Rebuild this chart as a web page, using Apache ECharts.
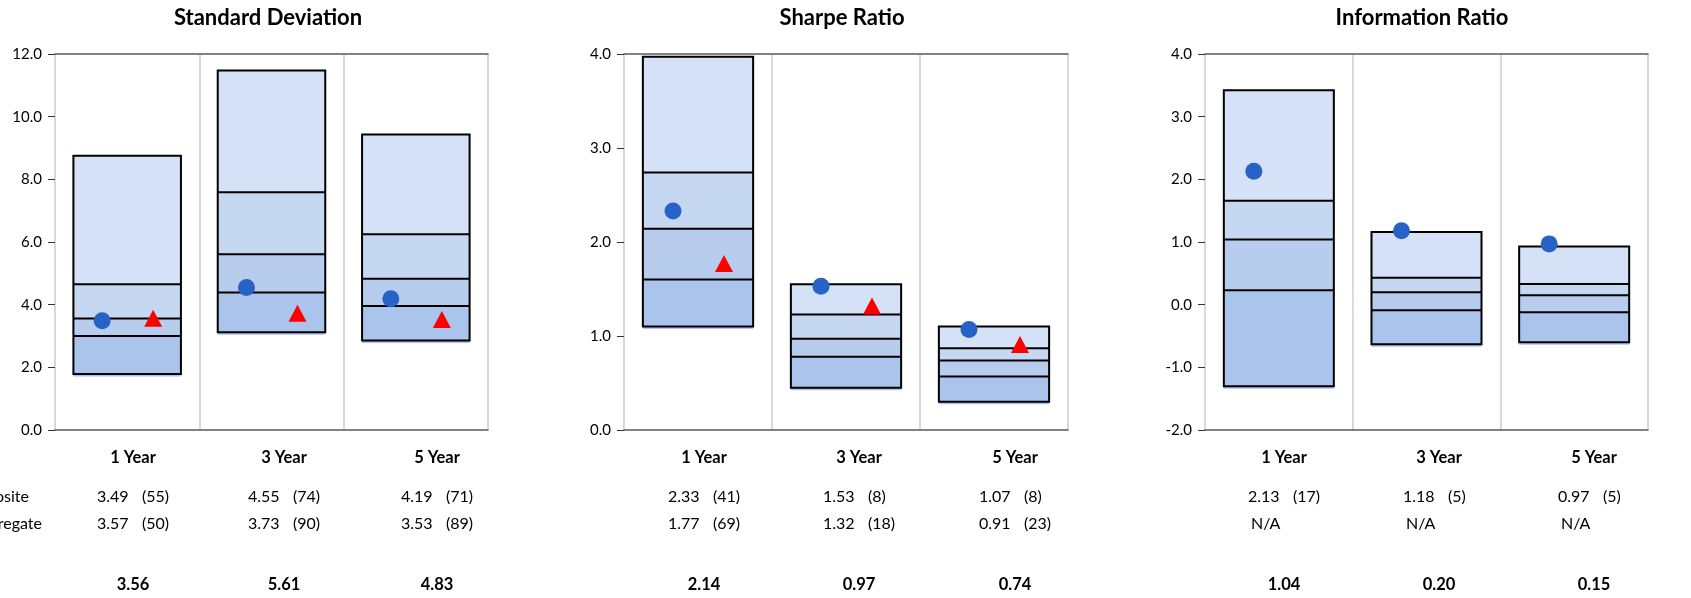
<!DOCTYPE html>
<html>
<head>
<meta charset="utf-8">
<script src="https://cdn.jsdelivr.net/npm/echarts@6.0.0/dist/echarts.min.js"></script>
<style>
	html, body { margin: 0; padding: 0; background: #fff; }
	#main { width: 1691px; height: 598px; }
</style>
</head>
<body>
<div id="main"></div>
<script>
const categories = ['1 Year', '3 Year', '5 Year'];

// Standard Deviation: percentile boxes (5th / 25th / median / 75th / 95th)
const sdP5 = [1.79, 3.12, 2.86];
const sdP25 = [3.0, 4.39, 3.96];
const sdMedian = [3.56, 5.61, 4.83];
const sdP75 = [4.65, 7.59, 6.25];
const sdP95 = [8.75, 11.47, 9.43];
const sdComposite = [3.49, 4.55, 4.19];
const sdCompositeRank = [55, 74, 71];
const sdAggregate = [3.57, 3.73, 3.53];
const sdAggregateRank = [50, 90, 89];

// Sharpe Ratio
const srP5 = [1.1, 0.45, 0.3];
const srP25 = [1.6, 0.78, 0.57];
const srMedian = [2.14, 0.97, 0.74];
const srP75 = [2.74, 1.23, 0.87];
const srP95 = [3.97, 1.55, 1.1];
const srComposite = [2.33, 1.53, 1.07];
const srCompositeRank = [41, 8, 8];
const srAggregate = [1.77, 1.32, 0.91];
const srAggregateRank = [69, 18, 23];

// Information Ratio (no aggregate figures)
const irP5 = [-1.3, -0.63, -0.6];
const irP25 = [0.23, -0.09, -0.12];
const irMedian = [1.04, 0.2, 0.15];
const irP75 = [1.66, 0.43, 0.33];
const irP95 = [3.42, 1.16, 0.93];
const irComposite = [2.13, 1.18, 0.97];
const irCompositeRank = [17, 5, 5];
const irAggregate = [null, null, null];
const irAggregateRank = [null, null, null];

const panels = [
	{
		title: 'Standard Deviation', titleX: 268,
		p5: sdP5, p25: sdP25, median: sdMedian, p75: sdP75, p95: sdP95,
		composite: sdComposite, compositeRank: sdCompositeRank,
		aggregate: sdAggregate, aggregateRank: sdAggregateRank,
		min: 0, max: 12, interval: 2,
		left: 55, width: 433, cols: [133, 284, 437]
	},
	{
		title: 'Sharpe Ratio', titleX: 842,
		p5: srP5, p25: srP25, median: srMedian, p75: srP75, p95: srP95,
		composite: srComposite, compositeRank: srCompositeRank,
		aggregate: srAggregate, aggregateRank: srAggregateRank,
		min: 0, max: 4, interval: 1,
		left: 624, width: 444, cols: [704, 859, 1015]
	},
	{
		title: 'Information Ratio', titleX: 1422,
		p5: irP5, p25: irP25, median: irMedian, p75: irP75, p95: irP95,
		composite: irComposite, compositeRank: irCompositeRank,
		aggregate: irAggregate, aggregateRank: irAggregateRank,
		min: -2, max: 4, interval: 1,
		left: 1205, width: 443, cols: [1284, 1439, 1594]
	}
];

const FONT = 'Lato, "Open Sans", sans-serif';
const boxShades = ['#aac4eb', '#b8cdee', '#c6d8f1', '#d5e1f6']; // bottom to top

function renderBox(params, api) {
	const i = api.value(0);
	const ys = [1, 2, 3, 4, 5].map(k => api.coord([i, api.value(k)])[1]);
	const cx = api.coord([i, api.value(1)])[0];
	const w = api.size([1, 0])[0] * 0.745;
	const x0 = cx - w / 2;
	const children = [];
	for (let k = 0; k < 4; k++) {
		children.push({
			type: 'rect',
			shape: { x: x0, y: ys[k + 1], width: w, height: ys[k] - ys[k + 1] },
			style: { fill: boxShades[k] }
		});
	}
	// faint blue edge under the box
	children.push({
		type: 'rect',
		shape: { x: x0, y: ys[0], width: w, height: 2.5 },
		style: { fill: '#a9c4ea' }
	});
	for (let k = 1; k < 4; k++) {
		children.push({
			type: 'line',
			shape: { x1: x0, y1: ys[k], x2: x0 + w, y2: ys[k] },
			style: { stroke: '#000', lineWidth: 2 }
		});
	}
	children.push({
		type: 'rect',
		shape: { x: x0, y: ys[4], width: w, height: ys[0] - ys[4] },
		style: { fill: null, stroke: '#000', lineWidth: 2 }
	});
	return { type: 'group', children };
}

const grid = [];
const xAxis = [];
const yAxis = [];
const series = [];
const graphic = [];

function addText(x, y, text, align, bold, size) {
	graphic.push({
		type: 'text',
		x: x,
		y: y,
		silent: true,
		style: {
			text: text,
			textAlign: align,
			textVerticalAlign: 'middle',
			fontFamily: FONT,
			fontSize: size || 16,
			fontWeight: bold ? 'bold' : 'normal',
			fill: '#000'
		}
	});
}

panels.forEach((p, g) => {
	grid.push({ left: p.left, width: p.width, top: 54, height: 376, show: false });
	xAxis.push({
		type: 'category',
		gridIndex: g,
		data: categories,
		axisLine: { onZero: false, lineStyle: { color: '#595959', width: 1.5 } },
		axisTick: { show: false },
		axisLabel: { show: false },
		splitLine: { show: true, lineStyle: { color: '#d9d9d9', width: 2 } }
	});
	// top border line
	xAxis.push({
		type: 'category',
		gridIndex: g,
		position: 'top',
		data: categories,
		axisLine: { onZero: false, lineStyle: { color: '#595959', width: 1.5 } },
		axisTick: { show: false },
		axisLabel: { show: false },
		splitLine: { show: false }
	});
	yAxis.push({
		type: 'value',
		gridIndex: g,
		min: p.min,
		max: p.max,
		interval: p.interval,
		axisLine: { show: true, lineStyle: { color: '#d9d9d9', width: 2 } },
		axisTick: { show: true, length: 7, lineStyle: { color: '#333' } },
		axisLabel: {
			margin: 13,
			color: '#000',
			fontFamily: FONT,
			fontSize: 15,
			formatter: v => v.toFixed(1)
		},
		splitLine: { show: false }
	});

	series.push({
		type: 'custom',
		xAxisIndex: g * 2,
		yAxisIndex: g,
		renderItem: renderBox,
		encode: { x: 0, y: [1, 2, 3, 4, 5] },
		data: categories.map((c, i) => [i, p.p5[i], p.p25[i], p.median[i], p.p75[i], p.p95[i]]),
		z: 2
	});
	series.push({
		type: 'scatter',
		xAxisIndex: g * 2,
		yAxisIndex: g,
		symbol: 'circle',
		symbolSize: 17,
		symbolOffset: [-25, 0],
		itemStyle: { color: '#2762c6', opacity: 1 },
		data: p.composite,
		z: 5
	});
	if (p.aggregate.some(v => v !== null)) {
		series.push({
			type: 'scatter',
			xAxisIndex: g * 2,
			yAxisIndex: g,
			symbol: 'triangle',
			symbolSize: [18, 17],
			symbolOffset: [26, 0],
			itemStyle: { color: '#ff0000', opacity: 1 },
			data: p.aggregate,
			z: 5
		});
	}

	addText(p.titleX, 18, p.title, 'center', true, 22);
	p.cols.forEach((cx, i) => {
		addText(cx, 458, categories[i], 'center', true, 16.5);
		addText(cx - 36, 497, p.composite[i].toFixed(2), 'left');
		addText(cx + 9, 497, '(' + p.compositeRank[i] + ')', 'left');
		if (p.aggregate[i] === null) {
			addText(cx - 33, 524, 'N/A', 'left');
		} else {
			addText(cx - 36, 524, p.aggregate[i].toFixed(2), 'left');
			addText(cx + 9, 524, '(' + p.aggregateRank[i] + ')', 'left');
		}
		addText(cx, 585, p.median[i].toFixed(2), 'center', true, 16.5);
	});
});

// row labels, cut by the left edge as in the source
addText(29, 497, 'Composite', 'right');
addText(42, 524, 'Aggregate', 'right');

const myChart = echarts.init(document.getElementById('main'));
myChart.setOption({
	animation: false,
	grid: grid,
	xAxis: xAxis,
	yAxis: yAxis,
	series: series,
	graphic: graphic
});
</script>
</body>
</html>
